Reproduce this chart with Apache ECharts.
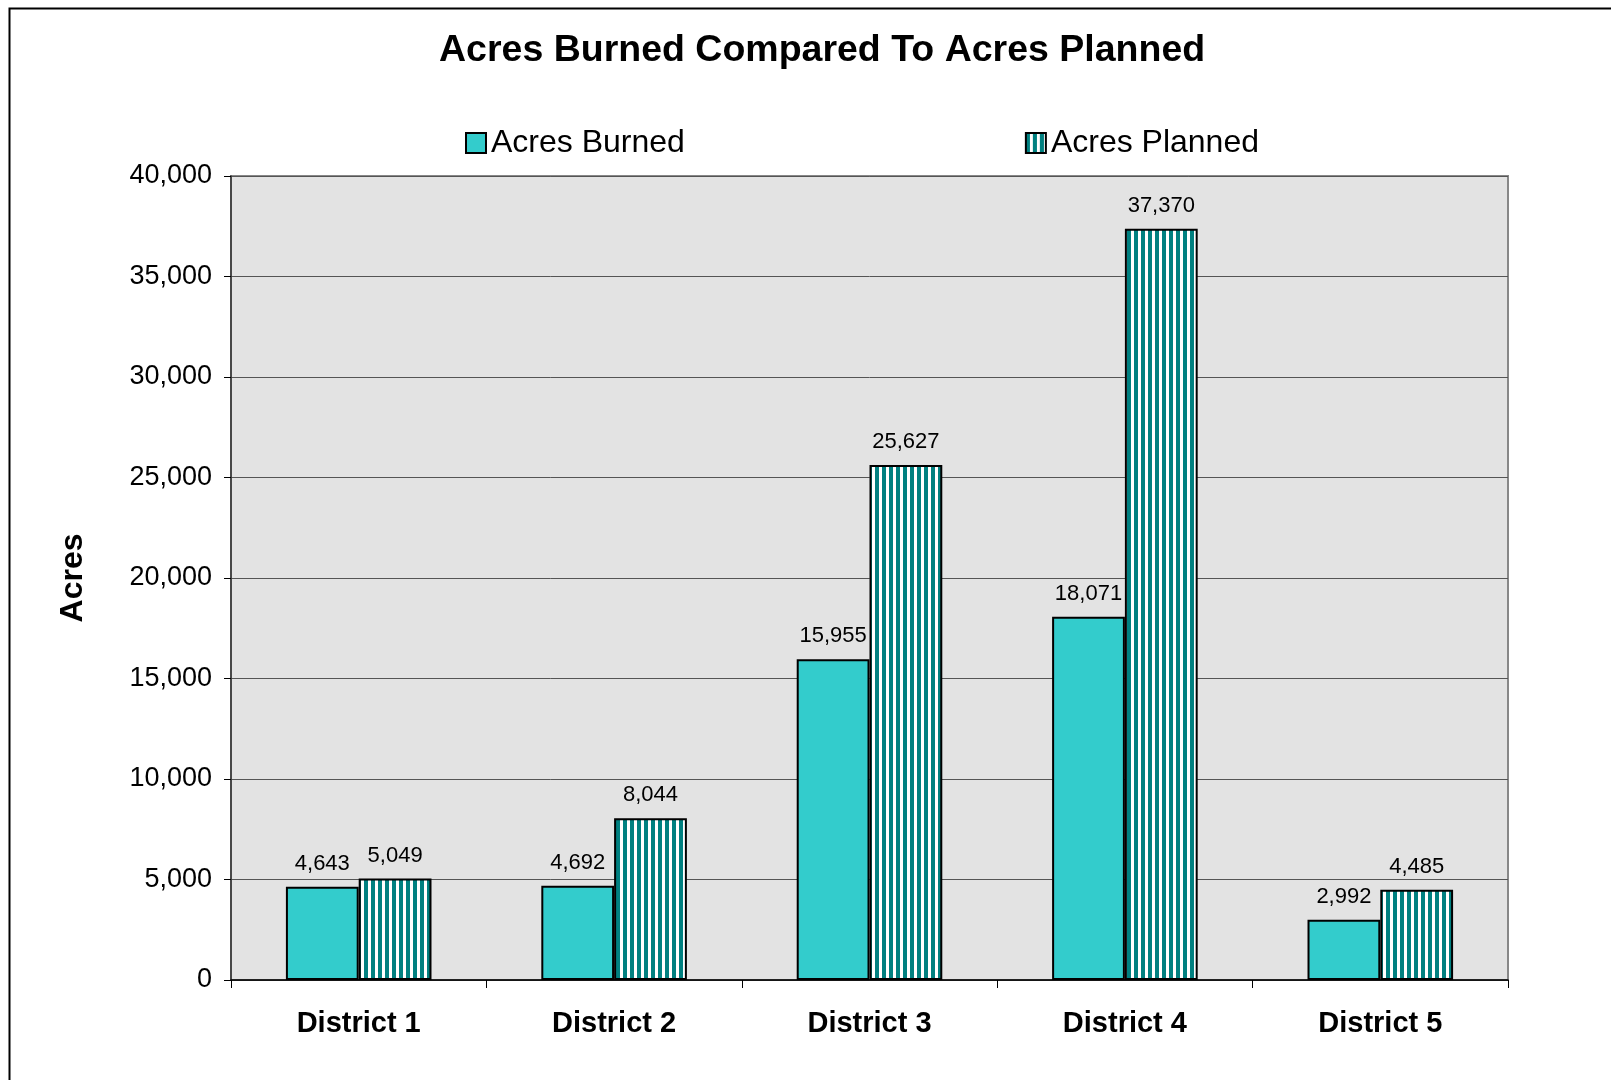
<!DOCTYPE html>
<html>
<head>
<meta charset="utf-8">
<script src="https://cdn.jsdelivr.net/npm/echarts@6/dist/echarts.min.js"></script>
<style>
	html, body { margin: 0; padding: 0; background: #fff; }
	#chart { width: 1611px; height: 1080px; }
</style>
</head>
<body>
<div id="chart"></div>
<script>
const districts = ['District 1', 'District 2', 'District 3', 'District 4', 'District 5'];
const acresBurned = [4643, 4692, 15955, 18071, 2992];
const acresPlanned = [5049, 8044, 25627, 37370, 4485];

const FONT = 'Liberation Sans, Arial, sans-serif';

// vertical teal/white stripes for the planned bars
function makeStripes() {
	const c = document.createElement('canvas');
	c.width = 7;
	c.height = 10;
	const ctx = c.getContext('2d');
	ctx.fillStyle = '#ffffff';
	ctx.fillRect(0, 0, 7, 10);
	ctx.fillStyle = '#008080';
	ctx.fillRect(0, 0, 4, 10);
	return c;
}

const fmt = (v) => v.toLocaleString('en-US');

const chart = echarts.init(document.getElementById('chart'));
chart.setOption({
	animation: false,
	backgroundColor: '#ffffff',
	textStyle: { fontFamily: FONT },
	graphic: [{
		type: 'rect',
		left: 7,
		top: 6,
		shape: { width: 1700, height: 1200 },
		style: { fill: 'none', stroke: '#000', lineWidth: 2 },
		silent: true
	}],
	title: {
		text: 'Acres Burned Compared To Acres Planned',
		left: 434,
		top: 27,
		textStyle: { fontFamily: FONT, fontSize: 37.5, fontWeight: 'bold', color: '#000' }
	},
	legend: {
		left: 460,
		top: 122,
		itemGap: 340,
		itemWidth: 20,
		itemHeight: 20,
		icon: 'rect',
		textStyle: { fontFamily: FONT, fontSize: 32, color: '#000' },
		data: ['Acres Burned', 'Acres Planned']
	},
	grid: {
		left: 231,
		top: 176,
		right: 103,
		bottom: 100,
		show: true,
		backgroundColor: '#e3e3e3',
		borderColor: '#888',
		borderWidth: 2
	},
	xAxis: {
		type: 'category',
		data: districts,
		axisLine: { lineStyle: { color: '#000', width: 1.5 } },
		axisTick: { show: true, length: 8, lineStyle: { color: '#000' } },
		axisLabel: { margin: 29, fontFamily: FONT, fontSize: 29, fontWeight: 'bold', color: '#000' }
	},
	yAxis: {
		type: 'value',
		min: 0,
		max: 40000,
		interval: 5000,
		name: 'Acres',
		nameLocation: 'middle',
		nameGap: 142,
		nameTextStyle: { fontFamily: FONT, fontSize: 32, fontWeight: 'bold', color: '#000' },
		axisLine: { show: true, lineStyle: { color: '#333', width: 1.5 } },
		axisTick: { show: true, length: 7, lineStyle: { color: '#000' } },
		axisLabel: { margin: 19, fontFamily: FONT, fontSize: 27, color: '#000', formatter: fmt },
		splitLine: { lineStyle: { color: '#555', width: 1 } }
	},
	series: [
		{
			name: 'Acres Burned',
			type: 'bar',
			data: acresBurned,
			barGap: '0%',
			barCategoryGap: '43%',
			itemStyle: { color: '#33cccc', borderColor: '#000', borderWidth: 2 },
			label: {
				show: true, position: 'top', distance: 12,
				fontFamily: FONT, fontSize: 22, color: '#000',
				formatter: (p) => fmt(p.value)
			}
		},
		{
			name: 'Acres Planned',
			type: 'bar',
			data: acresPlanned,
			barGap: '0%',
			barCategoryGap: '43%',
			itemStyle: {
				color: { image: makeStripes(), repeat: 'repeat' },
				borderColor: '#000',
				borderWidth: 2
			},
			label: {
				show: true, position: 'top', distance: 12,
				fontFamily: FONT, fontSize: 22, color: '#000',
				formatter: (p) => fmt(p.value)
			}
		}
	]
});
</script>
</body>
</html>
